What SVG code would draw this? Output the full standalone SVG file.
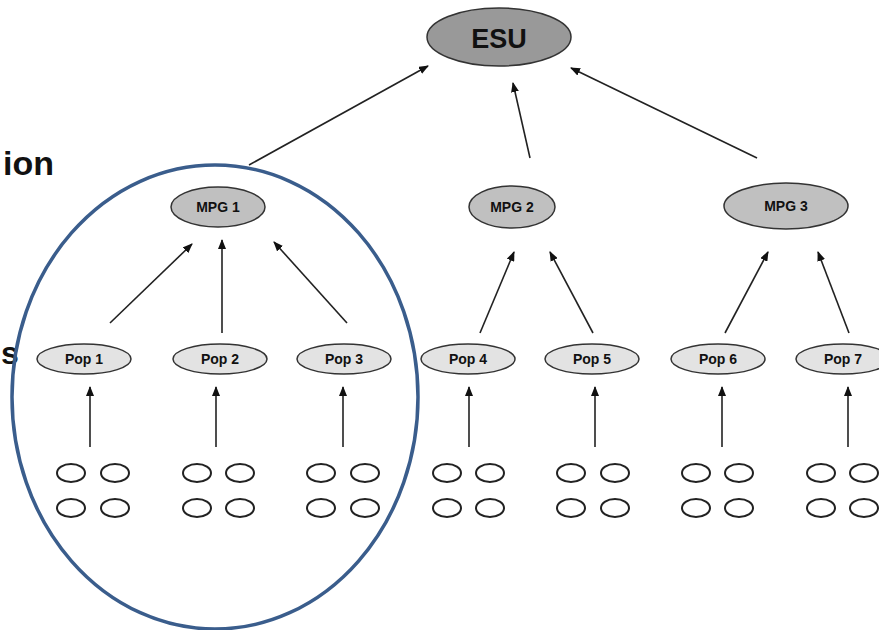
<svg xmlns="http://www.w3.org/2000/svg" width="879" height="630" viewBox="0 0 879 630">
<defs>
<marker id="ah" markerWidth="10" markerHeight="8" refX="9" refY="4" orient="auto" markerUnits="userSpaceOnUse">
<path d="M0,0 L10,4 L0,8 Z" fill="#111"/>
</marker>
<style>
.lbl{font-family:"Liberation Sans",Arial,sans-serif;font-weight:bold;fill:#111;text-anchor:middle;dominant-baseline:central}
.pop{fill:#e3e3e3;stroke:#333;stroke-width:1.5}
.mpg{fill:#c0c0c0;stroke:#333;stroke-width:1.5}
.ind{fill:#fff;stroke:#222;stroke-width:2}
.edge{stroke:#222;stroke-width:1.6;fill:none;marker-end:url(#ah)}
</style>
</defs>
<rect width="879" height="630" fill="#fff"/>
<text x="54" y="175" class="lbl" style="font-size:34px;text-anchor:end;dominant-baseline:auto">ion</text>
<text x="1" y="364" class="lbl" style="font-size:32px;text-anchor:start;dominant-baseline:auto">s</text>

<g id="connectors">
<line class="edge" x1="249" y1="165" x2="428" y2="66"/>
<line class="edge" x1="530" y1="158" x2="513" y2="83"/>
<line class="edge" x1="757" y1="158" x2="571" y2="68"/>
<line class="edge" x1="110" y1="323" x2="192" y2="244"/>
<line class="edge" x1="222" y1="333" x2="222" y2="240"/>
<line class="edge" x1="347" y1="323" x2="274" y2="242"/>
<line class="edge" x1="480" y1="333" x2="514" y2="252"/>
<line class="edge" x1="593" y1="333" x2="550" y2="252"/>
<line class="edge" x1="725" y1="333" x2="768" y2="252"/>
<line class="edge" x1="849" y1="333" x2="818" y2="252"/>
<line class="edge" x1="90" y1="447" x2="90" y2="387"/>
<line class="edge" x1="216" y1="447" x2="216" y2="387"/>
<line class="edge" x1="343" y1="447" x2="343" y2="387"/>
<line class="edge" x1="469" y1="447" x2="469" y2="387"/>
<line class="edge" x1="595" y1="447" x2="595" y2="387"/>
<line class="edge" x1="722" y1="447" x2="722" y2="387"/>
<line class="edge" x1="848" y1="447" x2="848" y2="387"/>
</g>

<g id="esu"><ellipse cx="499" cy="37" rx="72" ry="29" fill="#999" stroke="#333" stroke-width="1.5"/><text x="499" y="39" class="lbl" style="font-size:27px">ESU</text></g>

<g id="mpg1"><ellipse class="mpg" cx="218" cy="207" rx="47" ry="20"/><text x="218" y="207" class="lbl" style="font-size:14px">MPG 1</text></g>
<g id="mpg2"><ellipse class="mpg" cx="512" cy="207" rx="43" ry="21"/><text x="512" y="207" class="lbl" style="font-size:14px">MPG 2</text></g>
<g id="mpg3"><ellipse class="mpg" cx="786" cy="206" rx="62" ry="23"/><text x="786" y="206" class="lbl" style="font-size:14px">MPG 3</text></g>

<g id="pop1"><ellipse class="pop" cx="84" cy="359" rx="47" ry="15"/><text x="84" y="359" class="lbl" style="font-size:14px">Pop 1</text></g>
<g id="pop2"><ellipse class="pop" cx="220" cy="359" rx="47" ry="15"/><text x="220" y="359" class="lbl" style="font-size:14px">Pop 2</text></g>
<g id="pop3"><ellipse class="pop" cx="344" cy="359" rx="47" ry="15"/><text x="344" y="359" class="lbl" style="font-size:14px">Pop 3</text></g>
<g id="pop4"><ellipse class="pop" cx="468" cy="359" rx="47" ry="15"/><text x="468" y="359" class="lbl" style="font-size:14px">Pop 4</text></g>
<g id="pop5"><ellipse class="pop" cx="592" cy="359" rx="47" ry="15"/><text x="592" y="359" class="lbl" style="font-size:14px">Pop 5</text></g>
<g id="pop6"><ellipse class="pop" cx="718" cy="359" rx="47" ry="15"/><text x="718" y="359" class="lbl" style="font-size:14px">Pop 6</text></g>
<g id="pop7"><ellipse class="pop" cx="843" cy="359" rx="47" ry="15"/><text x="843" y="359" class="lbl" style="font-size:14px">Pop 7</text></g>

<g id="ind1"><ellipse class="ind" cx="71" cy="473" rx="14" ry="9"/><ellipse class="ind" cx="115" cy="473" rx="14" ry="9"/><ellipse class="ind" cx="71" cy="508" rx="14" ry="9"/><ellipse class="ind" cx="115" cy="508" rx="14" ry="9"/></g>
<g id="ind2"><ellipse class="ind" cx="197" cy="473" rx="14" ry="9"/><ellipse class="ind" cx="240" cy="473" rx="14" ry="9"/><ellipse class="ind" cx="197" cy="508" rx="14" ry="9"/><ellipse class="ind" cx="240" cy="508" rx="14" ry="9"/></g>
<g id="ind3"><ellipse class="ind" cx="321" cy="473" rx="14" ry="9"/><ellipse class="ind" cx="365" cy="473" rx="14" ry="9"/><ellipse class="ind" cx="321" cy="508" rx="14" ry="9"/><ellipse class="ind" cx="365" cy="508" rx="14" ry="9"/></g>
<g id="ind4"><ellipse class="ind" cx="447" cy="473" rx="14" ry="9"/><ellipse class="ind" cx="490" cy="473" rx="14" ry="9"/><ellipse class="ind" cx="447" cy="508" rx="14" ry="9"/><ellipse class="ind" cx="490" cy="508" rx="14" ry="9"/></g>
<g id="ind5"><ellipse class="ind" cx="571" cy="473" rx="14" ry="9"/><ellipse class="ind" cx="615" cy="473" rx="14" ry="9"/><ellipse class="ind" cx="571" cy="508" rx="14" ry="9"/><ellipse class="ind" cx="615" cy="508" rx="14" ry="9"/></g>
<g id="ind6"><ellipse class="ind" cx="696" cy="473" rx="14" ry="9"/><ellipse class="ind" cx="739" cy="473" rx="14" ry="9"/><ellipse class="ind" cx="696" cy="508" rx="14" ry="9"/><ellipse class="ind" cx="739" cy="508" rx="14" ry="9"/></g>
<g id="ind7"><ellipse class="ind" cx="821" cy="473" rx="14" ry="9"/><ellipse class="ind" cx="864" cy="473" rx="14" ry="9"/><ellipse class="ind" cx="821" cy="508" rx="14" ry="9"/><ellipse class="ind" cx="864" cy="508" rx="14" ry="9"/></g>

<g id="highlight"><ellipse cx="215" cy="397" rx="203" ry="232" fill="none" stroke="#3a5d8c" stroke-width="3.5"/></g>
</svg>
